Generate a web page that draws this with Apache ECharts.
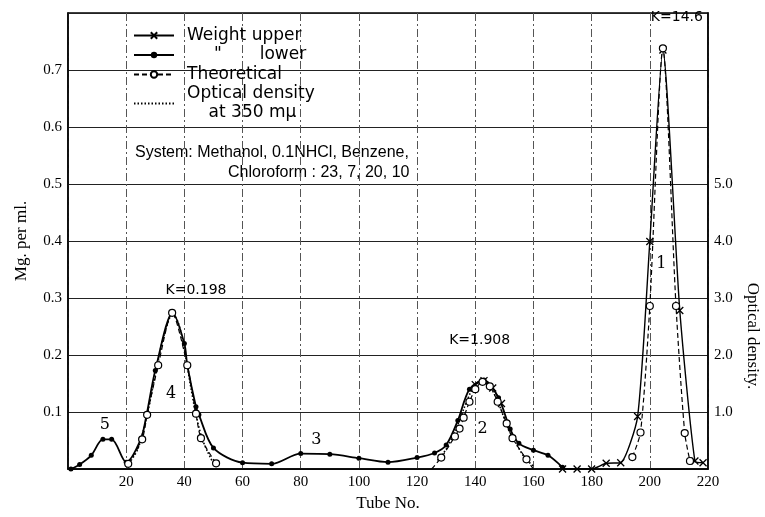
<!DOCTYPE html>
<html>
<head>
<meta charset="utf-8">
<script src="https://cdn.jsdelivr.net/npm/echarts@6/dist/echarts.min.js"></script>
<style>
  html, body { margin: 0; padding: 0; background: #fff; }
  #chart { width: 765px; height: 517px; }
</style>
</head>
<body>
<div id="chart"></div>
<script>
// tube numbers / mg per ml
var lowerTubes = [1, 4, 8, 12, 15, 20, 25, 27, 30, 36, 40, 41, 44, 45, 50, 60, 70, 80, 90, 100, 110, 120, 126, 130, 134, 138, 143, 148, 152, 155, 160, 165, 170];
var lowerMg = [0, 0.008, 0.024, 0.052, 0.052, 0.012, 0.052, 0.095, 0.173, 0.274, 0.22, 0.182, 0.109, 0.095, 0.037, 0.011, 0.009, 0.027, 0.026, 0.019, 0.012, 0.02, 0.028, 0.042, 0.085, 0.14, 0.156, 0.125, 0.07, 0.045, 0.033, 0.024, 0.003];

var upperTubesA = [140, 143, 146, 149];
var upperMgA = [0.148, 0.155, 0.142, 0.115];
var upperTubesB = [170, 175, 180, 185, 190, 195.8, 200, 204.5, 210.3, 215.5, 218.3];
var upperMgB = [0, 0, 0, 0.01, 0.011, 0.092, 0.399, 0.735, 0.278, 0.014, 0.011];

var theoTubesA = [20.7, 25.5, 27.2, 31, 35.8, 41, 44, 45.7, 50.9];
var theoMgA = [0.009, 0.052, 0.095, 0.182, 0.274, 0.182, 0.097, 0.054, 0.01];
// first and last of this run are where the dashed line meets the axis (no circle)
var theoTubesB = [125, 128.3, 133, 134.6, 136, 138, 140, 142.5, 145, 147.7, 150.8, 152.8, 157.6, 160];
var theoMgB = [0, 0.02, 0.057, 0.071, 0.09, 0.118, 0.14, 0.153, 0.145, 0.118, 0.08, 0.054, 0.017, 0];
var theoTubesC = [194, 196.8, 200, 204.5, 209, 212, 213.8];
var theoMgC = [0.021, 0.064, 0.286, 0.738, 0.286, 0.063, 0.014];

// optical density at 350 mu (right axis)
var odTubesA = [21, 24, 27, 30, 33, 36, 38, 40, 42, 44, 46, 48, 50];
var odA = [0.1, 0.35, 0.9, 1.65, 2.35, 2.72, 2.55, 2.1, 1.5, 0.95, 0.55, 0.3, 0.1];
var odTubesB = [127, 130, 133, 136, 139, 142, 145, 148, 151, 154, 157, 160];
var odB = [0.15, 0.35, 0.65, 1.05, 1.4, 1.55, 1.45, 1.15, 0.75, 0.45, 0.2, 0.05];

// labels on the plot
var kTexts = ['K=0.198', 'K=1.908', 'K=14.6'];
var kTubes = [44, 141.5, 209.3];
var kMg = [0.314, 0.225, 0.793];
var peakNums = ['5', '4', '3', '2', '1'];
var peakTubes = [12.7, 35.4, 85.4, 142.5, 204];
var peakMg = [0.078, 0.132, 0.052, 0.071, 0.36];

function pairs(xs, ys) {
    return xs.map(function (x, i) { return [x, ys[i]]; });
}

var serif = 'Liberation Serif';
var sans = 'DejaVu Sans';
var crossPath = 'path://M0 0L10 10M10 0L0 10';

var chart = echarts.init(document.getElementById('chart'));

function upperSeries(xs, ys) {
    return {
        name: 'Weight upper', type: 'line', data: pairs(xs, ys), smooth: 0.2,
        symbol: crossPath, symbolSize: 7,
        itemStyle: { color: 'rgba(0,0,0,0)', borderColor: '#000', borderWidth: 1.3 },
        lineStyle: { color: '#000', width: 1.4 }, z: 4
    };
}
function theoSeries(xs, ys, openEnds) {
    var data = pairs(xs, ys).map(function (p, i) {
        if (openEnds && (i === 0 || i === xs.length - 1)) return { value: p, symbol: 'none' };
        return p;
    });
    return {
        name: 'Theoretical', type: 'line', data: data, smooth: 0.25,
        symbol: 'circle', symbolSize: 7,
        itemStyle: { color: '#fff', borderColor: '#000', borderWidth: 1.2 },
        lineStyle: { color: '#000', width: 1.2, type: [5, 3] }, z: 5
    };
}
function odSeries(xs, ys) {
    return {
        name: 'Optical density', type: 'line', yAxisIndex: 1, data: pairs(xs, ys), smooth: 0.3,
        symbol: 'none', itemStyle: { color: '#000' },
        lineStyle: { color: '#000', width: 1.6, type: [1.5, 2] }, z: 3
    };
}

var option = {
    backgroundColor: '#fff',
    animation: false,
    grid: { left: 68, right: 57, top: 13, bottom: 44, show: true, borderColor: '#000', borderWidth: 1.5 },
    legend: {
        data: [
            'Weight upper', 'Weight lower', 'Theoretical',
            { name: 'Optical density', itemStyle: { opacity: 0 } }
        ],
        orient: 'vertical',
        left: 128, top: 21,
        itemWidth: 40, itemHeight: 8, itemGap: 0.5,
        textStyle: { fontFamily: sans, fontSize: 17, color: '#000', lineHeight: 19, padding: [0, 0, 0, 8] },
        formatter: function (name) {
            if (name === 'Weight lower') return '     "       lower';
            if (name === 'Optical density') return 'Optical density\n    at 350 m\u03bc';
            return name;
        },
        selectedMode: false
    },
    xAxis: {
        type: 'value', min: 0, max: 220, interval: 20,
        name: 'Tube No.', nameLocation: 'middle', nameGap: 26,
        nameTextStyle: { fontFamily: serif, fontSize: 17, color: '#000' },
        axisLine: { lineStyle: { color: '#000', width: 1.5 } },
        axisTick: { show: false },
        axisLabel: {
            fontFamily: serif, fontSize: 15, color: '#000', margin: 6,
            formatter: function (v) { return v === 0 ? '' : v; }
        },
        splitLine: { lineStyle: { color: '#555', width: 1, type: [8, 3, 2, 3] } }
    },
    yAxis: [{
        type: 'value', min: 0, max: 0.8, interval: 0.1,
        name: 'Mg. per ml.', nameLocation: 'middle', nameGap: 38,
        nameTextStyle: { fontFamily: serif, fontSize: 17, color: '#000' },
        axisLine: { lineStyle: { color: '#000', width: 1.5 } },
        axisTick: { show: false },
        axisLabel: {
            fontFamily: serif, fontSize: 15, color: '#000', margin: 6,
            formatter: function (v) { return (v < 0.05 || v > 0.75) ? '' : v.toFixed(1); }
        },
        splitLine: { lineStyle: { color: '#222', width: 1 } }
    }, {
        type: 'value', min: 0, max: 8, interval: 1, position: 'right',
        axisLine: { show: true, lineStyle: { color: '#000', width: 1.5 } },
        axisTick: { show: false },
        axisLabel: {
            fontFamily: serif, fontSize: 15, color: '#000', margin: 6,
            formatter: function (v) { return (v < 0.5 || v > 5.5) ? '' : v.toFixed(1); }
        },
        splitLine: { show: false }
    }],
    graphic: [
        { type: 'text', left: 135, top: 145, style: { text: 'System: Methanol, 0.1NHCl, Benzene,', font: '16px "Liberation Sans"', fill: '#000' } },
        { type: 'text', left: 228, top: 165, style: { text: 'Chloroform : 23, 7, 20, 10', font: '16px "Liberation Sans"', fill: '#000' } },
        { type: 'text', x: 752, y: 336, rotation: -Math.PI / 2, style: { text: 'Optical density.', font: '17px "Liberation Serif"', fill: '#000', align: 'center', verticalAlign: 'middle' } }
    ],
    series: [
        upperSeries(upperTubesA, upperMgA),
        upperSeries(upperTubesB, upperMgB),
        {
            name: 'Weight lower', type: 'line', data: pairs(lowerTubes, lowerMg), smooth: 0.3,
            symbol: 'circle', symbolSize: 5,
            itemStyle: { color: '#000' },
            lineStyle: { color: '#000', width: 1.8 }, z: 4
        },
        theoSeries(theoTubesA, theoMgA, false),
        theoSeries(theoTubesB, theoMgB, true),
        theoSeries(theoTubesC, theoMgC, false),
        odSeries(odTubesA, odA),
        odSeries(odTubesB, odB),
        {
            type: 'scatter', symbolSize: 0, silent: true,
            itemStyle: { opacity: 1 },
            data: kTexts.map(function (t, i) { return { name: t, value: [kTubes[i], kMg[i]] }; }),
            label: { show: true, position: 'inside', formatter: '{b}', fontFamily: sans, fontSize: 14, color: '#000', opacity: 1 }
        },
        {
            type: 'scatter', symbolSize: 0, silent: true,
            itemStyle: { opacity: 1 },
            data: peakNums.map(function (t, i) { return { name: t, value: [peakTubes[i], peakMg[i]] }; }),
            label: { show: true, position: 'inside', formatter: '{b}', fontFamily: 'DejaVu Serif', fontSize: 16, color: '#000', opacity: 1 }
        }
    ]
};

chart.setOption(option);
</script>
</body>
</html>
